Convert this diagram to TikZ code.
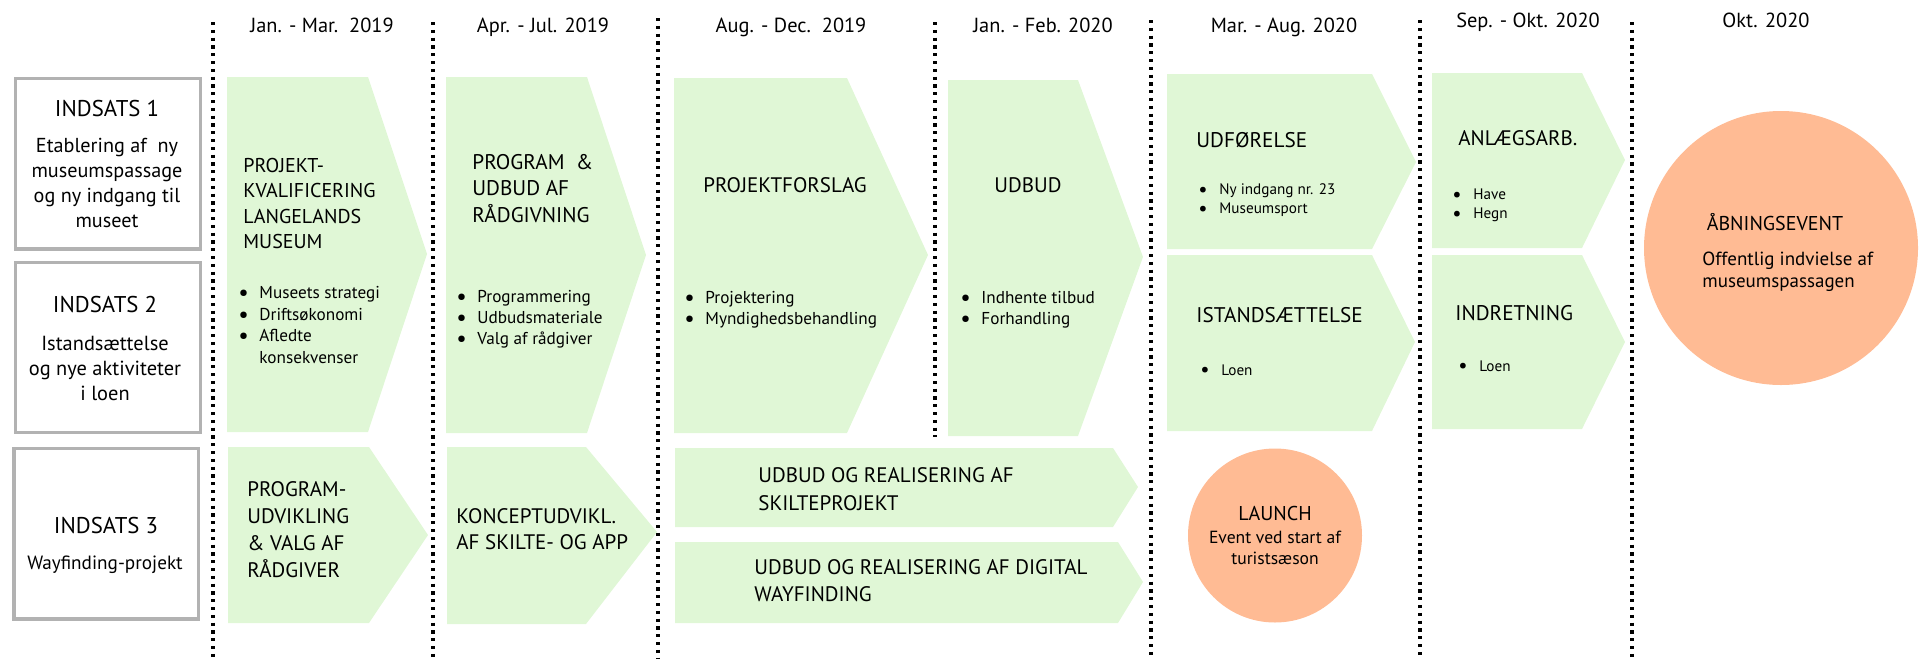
\documentclass[tikz,border=0pt]{standalone}
\usepackage{fontspec}
\setmainfont{PT Sans}
\definecolor{grn}{RGB}{224,247,214}
\definecolor{org}{RGB}{255,187,148}
\definecolor{boxgray}{RGB}{178,178,178}
\newcommand{\fsz}[2]{\fontsize{#1}{#2}\selectfont}
\newcommand{\bul}{\makebox[10.5pt][l]{\raisebox{-0.12em}{\scalebox{1.35}{\textbullet}}}}
\newcommand{\nob}{\makebox[10.5pt][l]{}}
\tikzset{
  vline/.style={line width=1.75pt, dash pattern=on 1.6pt off 2.3pt},
  gbox/.style={draw=boxgray, line width=1.75pt},
  gfill/.style={fill=grn},
  hdr/.style={anchor=base, inner sep=0, font=\fsz{10.2}{12}},
  ctr/.style={anchor=base, inner sep=0, align=center},
  tl/.style={anchor=base west, inner sep=0, align=left},
}
\begin{document}
\begin{tikzpicture}[x=0.5pt,y=-0.5pt]
\useasboundingbox (0,0) rectangle (1927,659);
% dotted separators
\foreach \x/\ya/\yb in {213/22/659, 433/22/659, 658/18/659, 935/22/437, 1151/20/659, 1420/20/659, 1632/22/659}
  \draw[vline] (\x,\ya) -- (\x,\yb);
% headers
\node[hdr] (h1) at (322,32.5) {Jan. - Mar.\ \ 2019};
\node[hdr] (h2) at (543,32.5) {Apr. - Jul. 2019};
\node[hdr] (h3) at (791,32.5) {Aug. - Dec.\ \ 2019};
\node[hdr] (h4) at (1043,32.5) {Jan. - Feb. 2020};
\node[hdr] (h5) at (1284,32.5) {Mar. - Aug. 2020};
\node[hdr] (h6) at (1528,27.5) {Sep. - Okt. 2020};
\node[hdr] (h7) at (1766,27.5) {Okt. 2020};
% left boxes
\draw[gbox] (15.7,78.3) rectangle (200.7,249);
\draw[gbox] (15.7,262.3) rectangle (200.7,432.5);
\draw[gbox] (14,448.7) rectangle (198.7,619);
\node[ctr, font=\fsz{11.4}{14}] (i1) at (107,116) {INDSATS 1};
\node[ctr, font=\fsz{10.1}{12.5}] (i1t) at (107,227.5) {Etablering af\ \ ny\\museumspassage\\og ny indgang til\\museet};
\node[ctr, font=\fsz{11.4}{14}] (i2) at (105,312) {INDSATS 2};
\node[ctr, font=\fsz{10.2}{12.5}] (i2t) at (105,400) {Istandsættelse\\og nye aktiviteter\\i loen};
\node[ctr, font=\fsz{11.4}{14}] (i3) at (106,533) {INDSATS 3};
\node[ctr, font=\fsz{9.6}{12.5}] (i3t) at (105,569) {Wayfinding-projekt};
% green arrows
\fill[gfill] (227,77) -- (368,77) -- (427,254) -- (368,432) -- (227,432) -- cycle;
\fill[gfill] (228,447) -- (369,447) -- (428,535) -- (369,623) -- (228,623) -- cycle;
\fill[gfill] (446,77) -- (587,77) -- (646,255) -- (587,433) -- (446,433) -- cycle;
\fill[gfill] (447,447) -- (586,447) -- (657,532) -- (586,624) -- (447,624) -- cycle;
\fill[gfill] (674,78) -- (847,78) -- (928,255) -- (847,433) -- (674,433) -- cycle;
\fill[gfill] (675,448) -- (1113,448) -- (1138,487) -- (1113,527) -- (675,527) -- cycle;
\fill[gfill] (675,542) -- (1118,542) -- (1143,582) -- (1118,623) -- (675,623) -- cycle;
\fill[gfill] (948,80) -- (1078,80) -- (1143,257) -- (1078,436) -- (948,436) -- cycle;
\fill[gfill] (1167,74) -- (1372,74) -- (1416,162) -- (1372,249) -- (1167,249) -- cycle;
\fill[gfill] (1167,255) -- (1372,255) -- (1415,342) -- (1372,431) -- (1167,431) -- cycle;
\fill[gfill] (1432,73) -- (1582,73) -- (1625,160) -- (1582,248) -- (1432,248) -- cycle;
\fill[gfill] (1432,255) -- (1582,255) -- (1625,342) -- (1582,429) -- (1432,429) -- cycle;
% column 1
\node[tl, font=\fsz{10}{12.65}] (a1t) at (243,248.5) {PROJEKT-\\KVALIFICERING\\LANGELANDS\\MUSEUM};
\node[tl, font=\fsz{8.6}{10.75}] (a1b) at (238,363) {\bul Museets strategi\\\bul Driftsøkonomi\\\bul Afledte\\\nob konsekvenser};
\node[tl, font=\fsz{10.5}{13.5}] (a2t) at (247,577) {PROGRAM-\\UDVIKLING\\\&\ VALG AF\\RÅDGIVER};
% column 2
\node[tl, font=\fsz{10.6}{13.2}] (b1t) at (472,222) {PROGRAM\ \ \&\\UDBUD AF\\RÅDGIVNING};
\node[tl, font=\fsz{8.6}{10.5}] (b1b) at (456,344.5) {\bul Programmering\\\bul Udbudsmateriale\\\bul Valg af rådgiver};
\node[tl, font=\fsz{10.5}{13.2}] (b2t) at (456,549.5) {KONCEPTUDVIKL.\\AF SKILTE- OG APP};
% column 3
\node[tl, font=\fsz{10.5}{13}] (c1t) at (703,192) {PROJEKTFORSLAG};
\node[tl, font=\fsz{8.6}{10.5}] (c1b) at (684,324.5) {\bul Projektering\\\bul Myndighedsbehandling};
\node[tl, font=\fsz{10.5}{13.75}] (c2t) at (758,510) {UDBUD OG REALISERING AF\\SKILTEPROJEKT};
\node[tl, font=\fsz{10.5}{13.5}] (c3t) at (754,601) {UDBUD OG REALISERING AF DIGITAL\\WAYFINDING};
% column 4
\node[tl, font=\fsz{10.5}{13}] (d1t) at (994,192) {UDBUD};
\node[tl, font=\fsz{8.6}{10.5}] (d1b) at (960,324.5) {\bul Indhente tilbud\\\bul Forhandling};
% column 5
\node[tl, font=\fsz{10.6}{13}] (e1t) at (1196,147) {UDFØRELSE};
\node[tl, font=\fsz{7.6}{9.6}] (e1b) at (1198,213.5) {\bul Ny indgang nr. 23\\\bul Museumsport};
\node[tl, font=\fsz{10.6}{13}] (e2t) at (1196,322.7) {ISTANDSÆTTELSE};
\node[tl, font=\fsz{7.6}{9.6}] (e2b) at (1200,375) {\bul Loen};
% column 6
\node[tl, font=\fsz{10.5}{13}] (f1t) at (1458,145) {ANLÆGSARB.};
\node[tl, font=\fsz{7.6}{9.6}] (f1b) at (1452,218.5) {\bul Have\\\bul Hegn};
\node[tl, font=\fsz{10.6}{13}] (f2t) at (1455,320.7) {INDRETNING};
\node[tl, font=\fsz{7.6}{9.6}] (f2b) at (1458,371) {\bul Loen};
% launch
\fill[org] (1275,535.5) circle (87);
\node[ctr, font=\fsz{10}{12}] (l1) at (1275,520.7) {LAUNCH};
\node[ctr, font=\fsz{8.8}{10.5}] (l2) at (1275,564) {Event ved start af\\turistsæson};
% opening
\fill[org] (1781,248) circle (137);
\node[ctr, font=\fsz{10}{12}] (o1) at (1775,230.7) {ÅBNINGSEVENT};
\node[tl, font=\fsz{9.5}{10.85}] (o2) at (1702,287.5) {Offentlig indvielse af\\museumspassagen};
\end{tikzpicture}
\end{document}
